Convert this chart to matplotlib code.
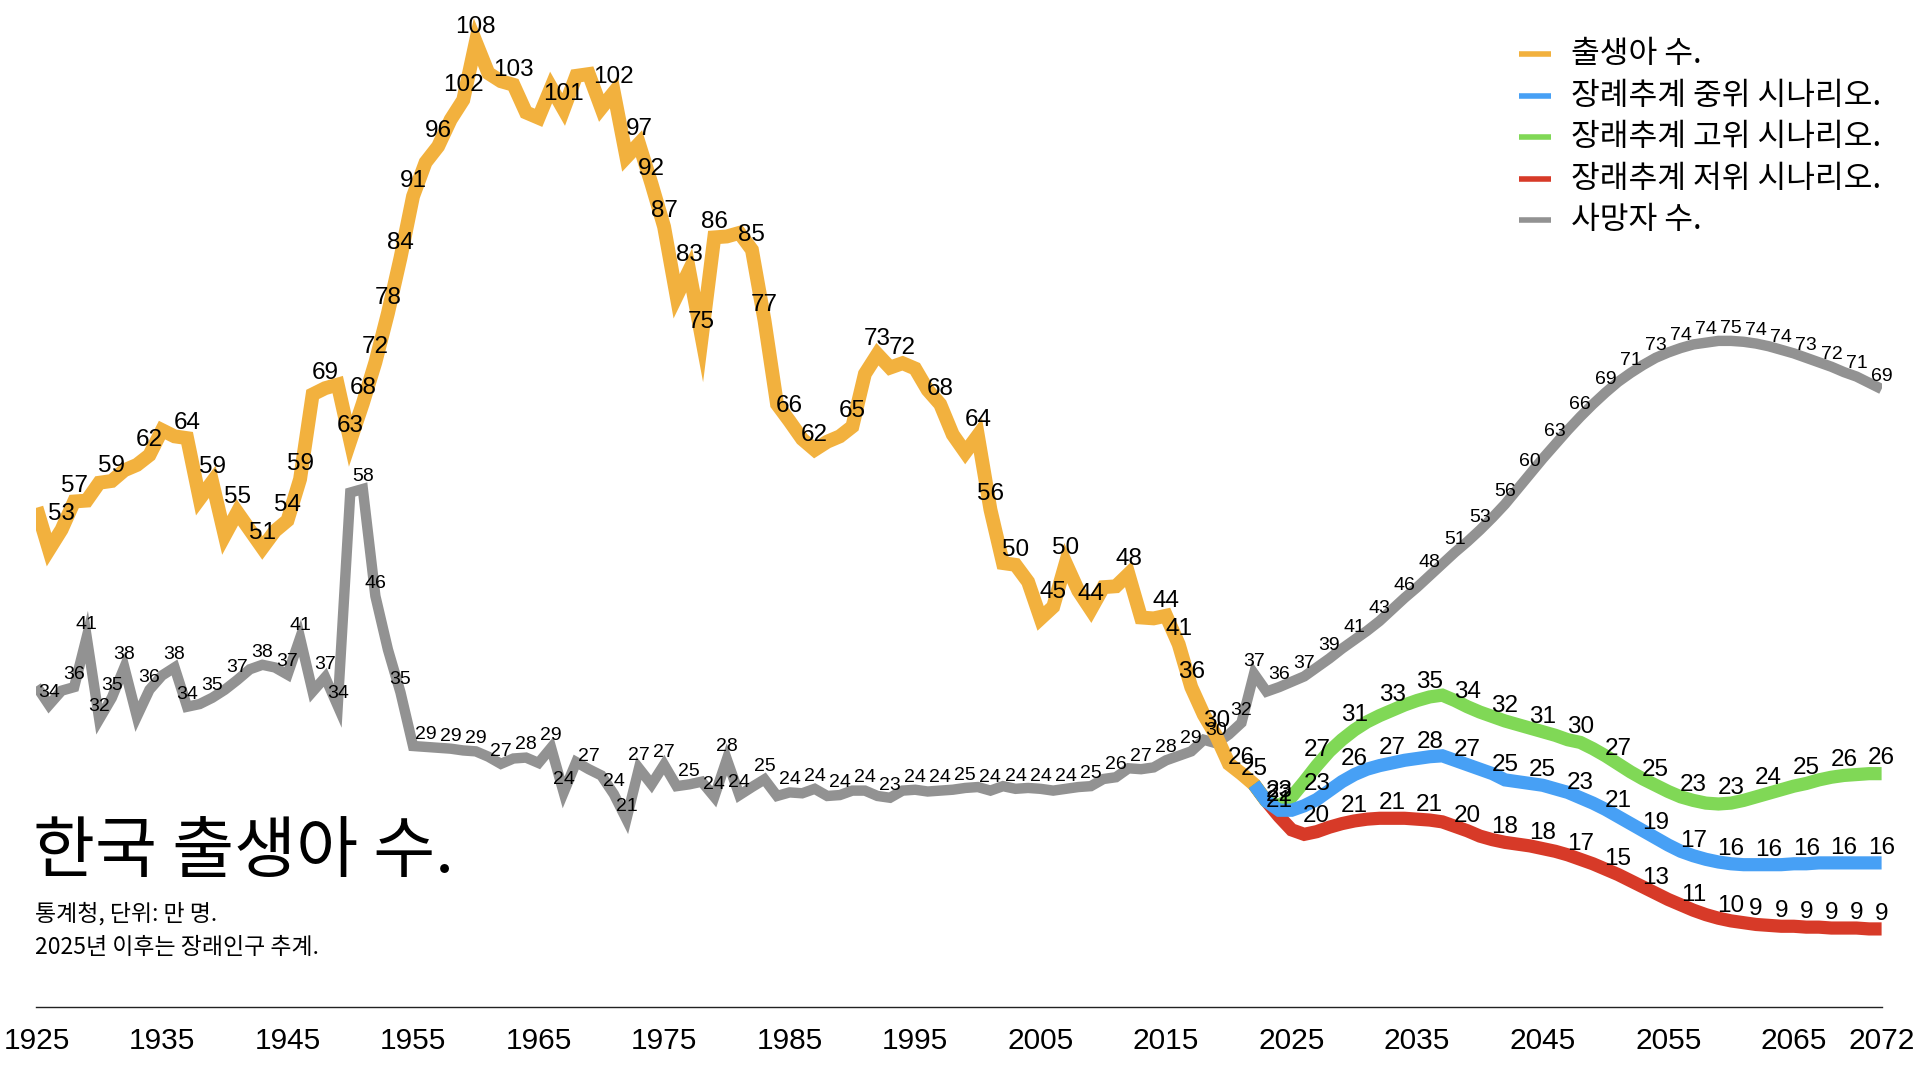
import numpy as np
import matplotlib.pyplot as plt
from matplotlib.lines import Line2D

plt.rcParams['font.family'] = ['Liberation Sans', 'Noto Sans CJK KR']

# ─── 데이터 (단위: 만 명) ────────────────────────────────────────────────
birth_years = list(range(1925, 2024))
births = [55.9, 51.2, 53.45, 56.6, 56.7, 58.7, 58.9, 60.1, 60.7, 61.8,      # 1925-1934
          64.6, 63.9, 63.7, 56.9, 58.8, 52.8, 55.4, 53.4, 51.4, 53.3,       # 1935-1944
          54.48, 59.1, 68.6, 69.3, 69.7, 63.4, 67.6, 72.2, 77.7, 83.9,      # 1945-1954
          90.8, 94.6, 96.4, 99.4, 101.6, 108.1, 104.6, 103.7, 103.3, 100.2, # 1955-1964
          99.6, 103.0, 100.53, 104.3, 104.5, 100.7, 102.45, 95.2, 96.7, 92.2, # 1965-1974
          87.4, 79.6, 82.5, 75.0, 86.2, 86.3, 86.7, 84.8, 76.9, 67.5,       # 1975-1984
          65.6, 63.6, 62.4, 63.3, 63.9, 65.0, 70.9, 73.1, 71.6, 72.1,       # 1985-1994
          71.5, 69.1, 67.5, 64.1, 62.1, 64.0, 55.7, 49.7, 49.5, 47.6,       # 1995-2004
          43.5, 44.8, 49.7, 46.6, 44.48, 47.0, 47.1, 48.46, 43.6, 43.5,     # 2005-2014
          43.8, 40.6, 35.8, 32.7, 30.3, 27.2, 26.1, 24.9, 23.0]             # 2015-2023

death_years = list(range(1925, 2073))
deaths = [35.9, 33.8, 35.4, 35.8, 41.4, 32.2, 34.6, 38.0, 32.5, 35.5,       # 1925-1934
          37.1, 38.0, 33.6, 33.9, 34.6, 35.5, 36.6, 37.8, 38.3, 38.0,       # 1935-1944
          37.2, 41.3, 35.3, 36.9, 33.7, 57.6, 58.0, 46.0, 40.0, 35.2,       # 1945-1954
          29.2, 29.1, 29.0, 28.9, 28.7, 28.6, 28.0, 27.2, 27.8, 27.9,       # 1955-1964
          27.3, 29.0, 24.0, 27.4, 26.6, 25.9, 23.8, 21.0, 26.7, 24.9,       # 1965-1974
          27.1, 24.7, 24.9, 25.2, 23.5, 27.7, 23.7, 24.6, 25.46, 23.6,      # 1975-1984
          24.0, 23.9, 24.4, 23.6, 23.7, 24.2, 24.2, 23.6, 23.4, 24.2,       # 1985-1994
          24.3, 24.1, 24.2, 24.3, 24.5, 24.6, 24.2, 24.7, 24.4, 24.5,       # 1995-2004
          24.4, 24.2, 24.4, 24.6, 24.7, 25.5, 25.7, 26.7, 26.6, 26.8,       # 2005-2014
          27.6, 28.1, 28.6, 29.9, 29.5, 30.5, 31.8, 37.3, 35.3, 35.8,       # 2015-2024
          36.4, 37.0, 38.0, 39.0, 40.1, 41.1, 42.1, 43.2, 44.5, 45.8,       # 2025-2034
          47.0, 48.3, 49.6, 50.9, 52.1, 53.4, 54.8, 56.3, 58.0, 59.7,       # 2035-2044
          61.4, 63.0, 64.6, 66.1, 67.5, 68.8, 70.0, 71.0, 71.9, 72.7,       # 2045-2054
          73.3, 73.8, 74.2, 74.4, 74.6, 74.6, 74.5, 74.3, 74.0, 73.6,       # 2055-2064
          73.2, 72.7, 72.2, 71.7, 71.1, 70.6, 69.9, 69.2]                   # 2065-2072

proj_years = list(range(2022, 2073))
proj_mid = [24.9, 23.0, 22.0, 22.0, 22.5, 23.2, 24.2, 25.2, 26.0, 26.6,
            27.0, 27.3, 27.6, 27.8, 28.0, 28.1, 27.6, 27.1, 26.6, 26.1,
            25.4, 25.2, 25.0, 24.8, 24.4, 24.0, 23.4, 22.8, 22.1, 21.3,
            20.5, 19.7, 18.9, 18.1, 17.4, 16.9, 16.5, 16.2, 16.0, 15.9,
            15.9, 15.9, 15.9, 16.0, 16.0, 16.1, 16.1, 16.1, 16.1, 16.1, 16.1]
proj_high = [24.9, 23.0, 22.5, 23.5, 25.2, 27.0, 28.6, 29.9, 31.0, 31.9,
             32.6, 33.2, 33.8, 34.3, 34.7, 34.9, 34.3, 33.6, 33.0, 32.5,
             32.0, 31.6, 31.2, 30.8, 30.4, 29.9, 29.6, 28.9, 28.1, 27.2,
             26.3, 25.5, 24.8, 24.1, 23.5, 23.1, 22.8, 22.7, 22.8, 23.1,
             23.5, 23.9, 24.3, 24.7, 25.0, 25.4, 25.7, 25.9, 26.0, 26.1, 26.1]
proj_low = [24.9, 23.0, 21.3, 19.8, 19.3, 19.6, 20.1, 20.5, 20.8, 21.0,
            21.1, 21.1, 21.1, 21.0, 20.9, 20.7, 20.2, 19.7, 19.1, 18.7,
            18.4, 18.2, 18.0, 17.7, 17.4, 17.0, 16.5, 16.0, 15.4, 14.8,
            14.1, 13.4, 12.7, 12.0, 11.4, 10.8, 10.3, 9.9, 9.6, 9.4,
            9.2, 9.1, 9.0, 9.0, 8.9, 8.9, 8.8, 8.8, 8.8, 8.7, 8.7]

# 그림에서 숫자가 표시된 해 (겹치는 라벨은 숨겨져 있음)
birth_label_years = [1927, 1928, 1931, 1934, 1937, 1939, 1941, 1943, 1945, 1946,
                     1948, 1950, 1951, 1952, 1953, 1954, 1955, 1957, 1959, 1960,
                     1963, 1967, 1971, 1973, 1974, 1975, 1977, 1978, 1979, 1982,
                     1983, 1985, 1987, 1990, 1992, 1994, 1997, 2000, 2001, 2003,
                     2006, 2007, 2009, 2012, 2015, 2016, 2017, 2019, 2021, 2022]
death_label_years = ([1926, 1928, 1929, 1930, 1931, 1932, 1934, 1936, 1937, 1939,
                      1941, 1943, 1945, 1946, 1948, 1949, 1951, 1952, 1954, 1956,
                      1958, 1960, 1962, 1964, 1966, 1967, 1969, 1971, 1972, 1973,
                      1975, 1977, 1979, 1980, 1981, 1983]
                     + list(range(1985, 2020, 2)) + [2021, 2022, 2024]
                     + list(range(2026, 2073, 2)))
mid_label_years = [2024] + list(range(2027, 2073, 3))
high_label_years = [2024] + list(range(2027, 2073, 3))
low_label_years = [2024] + list(range(2027, 2061, 3)) + list(range(2062, 2073, 2))

xtick_years = list(range(1925, 2066, 10)) + [2072]

title = '한국 출생아 수.'
subtitle = ['통계청, 단위: 만 명.', '2025년 이후는 장래인구 추계.']

C_BIRTH = '#F2B13E'
C_MID = '#47A0F5'
C_HIGH = '#80D856'
C_LOW = '#D73A28'
C_DEATH = '#929292'

series = [
    # (라벨, 색, 연도, 값, 선 굵기, 라벨 연도, 글자 크기)
    ('사망자 수.', C_DEATH, death_years, deaths, 7.5, death_label_years, 14),
    ('출생아 수.', C_BIRTH, birth_years, births, 10, birth_label_years, 17.5),
    ('장래추계 저위 시나리오.', C_LOW, proj_years, proj_low, 9.5, low_label_years, 17.5),
    ('장래추계 고위 시나리오.', C_HIGH, proj_years, proj_high, 9.5, high_label_years, 17.5),
    ('장례추계 중위 시나리오.', C_MID, proj_years, proj_mid, 9.5, mid_label_years, 17.5),
]
legend_order = ['출생아 수.', '장례추계 중위 시나리오.', '장래추계 고위 시나리오.',
                '장래추계 저위 시나리오.', '사망자 수.']


def fmt(v):
    return str(int(v + 0.5))


# ─── 그리기 ───────────────────────────────────────────────────────────────
fig = plt.figure(figsize=(19.2, 10.8), dpi=100)
ax = fig.add_axes([0.019, 0.068, 0.961, 0.932])

for name, color, xs, ys, lw, lab_years, fs in series:
    ax.plot(xs, ys, color=color, lw=lw, solid_joinstyle='miter',
            solid_capstyle='butt', zorder=2)
    lookup = dict(zip(xs, ys))
    for yr in lab_years:
        ax.annotate(fmt(lookup[yr]), (yr, lookup[yr]), xytext=(0, 3),
                    textcoords='offset points', ha='center', va='bottom',
                    fontsize=fs, color='black', zorder=5)

ax.set_xlim(1925, 2072)
ax.set_ylim(0, 112.8)
ax.set_xticks(xtick_years)
ax.set_xticklabels([str(y) for y in xtick_years], fontsize=21.5)
ax.tick_params(axis='x', length=0, pad=15)
ax.set_yticks([])
for side in ['top', 'right', 'left']:
    ax.spines[side].set_visible(False)
ax.spines['bottom'].set_linewidth(1.0)
ax.spines['bottom'].set_color('#222222')
ax.patch.set_alpha(0)

# 제목
fig.text(0.017, 0.210, title, fontsize=48.5, family='Noto Sans CJK KR',
         ha='left', va='center')
fig.text(0.018, 0.154, subtitle[0], fontsize=16.5, family='Noto Sans CJK KR',
         ha='left', va='center')
fig.text(0.018, 0.123, subtitle[1], fontsize=16.5, family='Noto Sans CJK KR',
         ha='left', va='center')

# 범례
colors = {name: color for name, color, *_ in series}
for i, name in enumerate(legend_order):
    y = 0.950 - i * 0.0385
    fig.add_artist(Line2D([0.791, 0.808], [y, y], transform=fig.transFigure,
                          color=colors[name], lw=4, solid_capstyle='butt'))
    fig.text(0.818, y, name, fontsize=22.5, family='Noto Sans CJK KR',
             ha='left', va='center')

plt.savefig('out.png', dpi=100)
